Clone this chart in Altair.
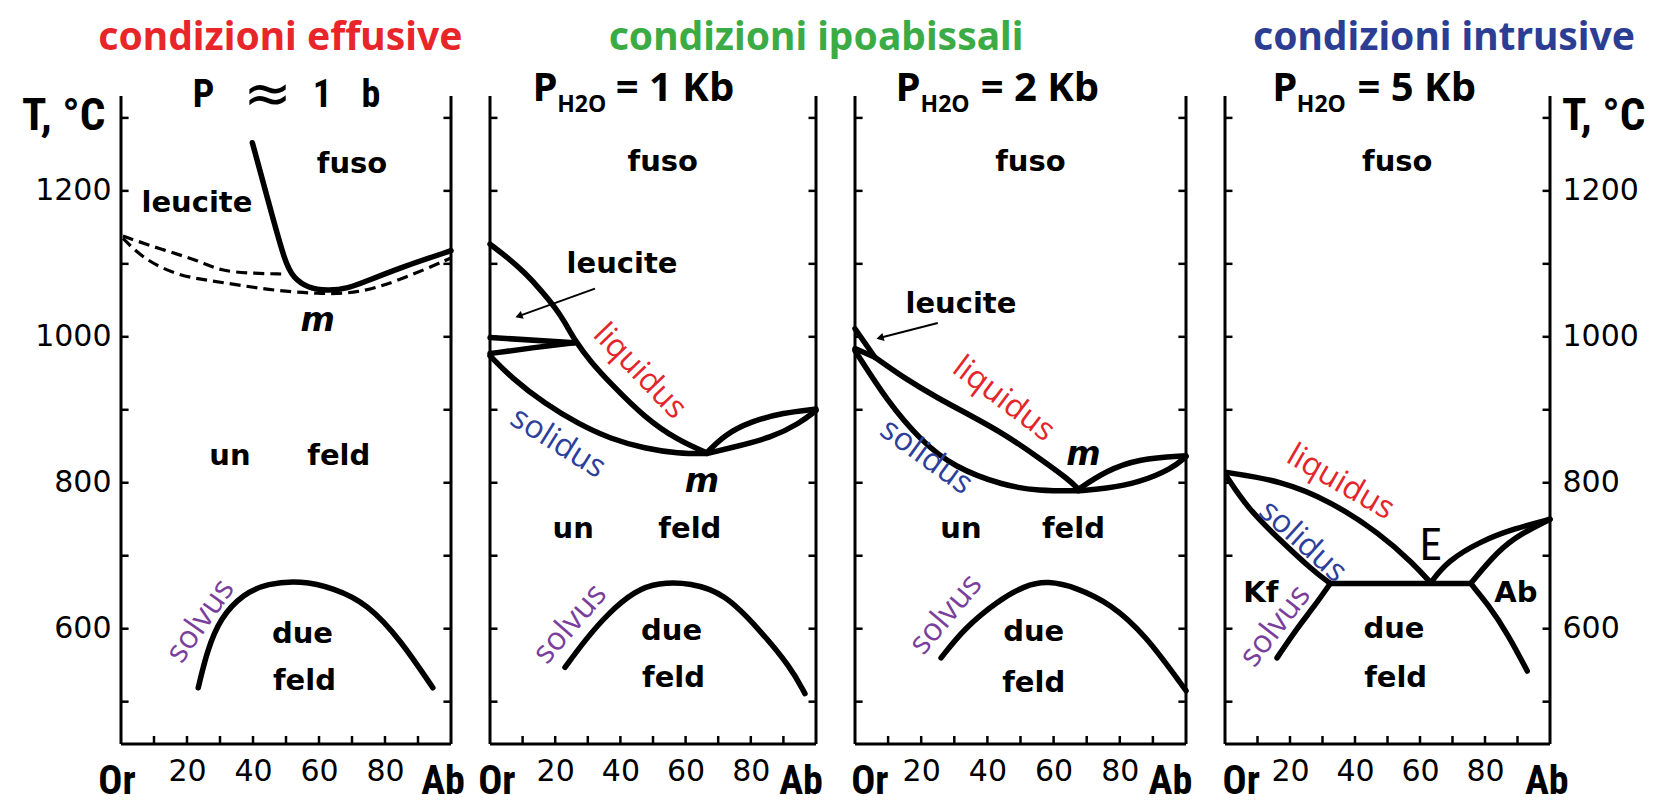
import altair as alt
import pandas as pd

# ------------------------------------------------------------------ scales
T_MIN, T_MAX = 442, 1330
Y_TICKS = [500, 600, 700, 800, 900, 1000, 1100, 1200, 1300]
Y_LABELS = [600, 800, 1000, 1200]
X_TICKS = [10, 20, 30, 40, 50, 60, 70, 80, 90]
X_LABELS = [20, 40, 60, 80]
PANEL_W = [330, 326, 331, 325]
PANEL_H = 648

# ------------------------------------------------------------------ curves
# panel 1 : P ~ 1 b
P1_LIQ_X = [39.8, 44.8, 49.8, 52.3, 56.5, 62.6, 68.7, 74.8, 84.8, 100]
P1_LIQ_T = [1266, 1183, 1100, 1081, 1067, 1063, 1066, 1077, 1095, 1118]
P1_DASH_A_X = [0.6, 12, 24, 30, 40, 49]
P1_DASH_A_T = [1138, 1120, 1104, 1090, 1087, 1086]
P1_DASH_B_X = [0.6, 6.7, 17, 27, 37, 47.4, 59.6, 71.7, 84.8, 100]
P1_DASH_B_T = [1135, 1107, 1084, 1077, 1070, 1063, 1059, 1059, 1078, 1108]
P1_SOLVUS_X = [23.4, 26.1, 30.1, 37.1, 44.4, 54.4, 64.4, 74.8, 84.8, 94.5]
P1_SOLVUS_T = [519, 570, 615, 648, 662, 666, 656, 634, 584, 519]

# panel 2 : PH2O = 1 Kb
P2_LIQ_X = [0, 5, 10.7, 16, 20, 23, 26, 31, 37, 47.5, 57.7, 66.5]
P2_LIQ_T = [1127, 1110, 1088, 1062, 1040, 1020, 995, 965, 936, 889, 858, 841]
P2_SOL_X = [0, 6.5, 16.9, 27, 37, 47.5, 57.7, 66.5]
P2_SOL_T = [974, 944, 908, 881, 860, 847, 840, 840]
P2_LEU_A_X = [0, 26]
P2_LEU_A_T = [999, 992]
P2_LEU_B_X = [0, 13, 26]
P2_LEU_B_T = [977, 985, 992]
P2_AB_LIQ_X = [66.5, 72, 80, 90, 100]
P2_AB_LIQ_T = [841, 866, 884, 896, 901]
P2_AB_SOL_X = [66.5, 74, 86.5, 94.8, 100]
P2_AB_SOL_T = [840, 848, 862, 881, 899]
P2_SOLVUS_X = [23, 29.1, 36.2, 44.5, 51.5, 61.6, 72, 82.2, 92.3, 96.6]
P2_SOLVUS_T = [547, 584, 621, 652, 663, 663, 648, 601, 547, 511]
P2_ARROW_X = [32.2, 9.2]
P2_ARROW_T = [1066, 1029]

# panel 3 : PH2O = 2 Kb
P3_LIQ_X = [6, 15, 25, 35, 45, 55, 65, 67.5]
P3_LIQ_T = [972, 943, 916, 892, 867, 836, 803, 791]
P3_SOL_X = [0, 9.7, 19.8, 30, 45, 55.3, 67.5]
P3_SOL_T = [981, 912, 858, 821, 796, 789, 789]
P3_LEU_A_X = [0, 6]
P3_LEU_A_T = [1011, 972]
P3_LEU_B_X = [0, 6]
P3_LEU_B_T = [984, 972]
P3_AB_LIQ_X = [67.5, 75.7, 85.7, 100]
P3_AB_LIQ_T = [791, 816, 833, 837]
P3_AB_SOL_X = [67.5, 75.7, 85.7, 95.7, 100]
P3_AB_SOL_T = [789, 792, 800, 819, 836]
P3_SOLVUS_X = [26, 33.1, 43.1, 51.2, 58.2, 67.2, 77.2, 87.5, 100]
P3_SOLVUS_T = [560, 601, 638, 659, 666, 656, 634, 593, 515]
P3_ARROW_X = [25, 7.9]
P3_ARROW_T = [1019, 999]

# panel 4 : PH2O = 5 Kb
P4_LIQ_X = [0.6, 17, 32.4, 47.8, 58, 63.3]
P4_LIQ_T = [814, 803, 775, 730, 689, 663]
P4_SOL_X = [0.6, 6.8, 17, 27.2, 32.4]
P4_SOL_T = [808, 766, 721, 679, 662]
P4_EUT_X = [32.4, 75.6]
P4_EUT_T = [662, 662]
P4_AB_LIQ_X = [63.3, 68.5, 78.7, 88.9, 100]
P4_AB_LIQ_T = [663, 693, 720, 737, 750]
P4_AB_SOL_X = [75.6, 84, 91, 100]
P4_AB_SOL_T = [662, 707, 730, 750]
P4_SOLVUS_KF_X = [16, 22.2, 27.2, 32.4]
P4_SOLVUS_KF_T = [560, 601, 629, 662]
P4_SOLVUS_AB_X = [75.6, 80.8, 87, 93]
P4_SOLVUS_AB_T = [662, 634, 593, 542]

SOLID = [
    (1, "liq", P1_LIQ_X, P1_LIQ_T), (1, "solvus", P1_SOLVUS_X, P1_SOLVUS_T),
    (2, "liq", P2_LIQ_X, P2_LIQ_T), (2, "sol", P2_SOL_X, P2_SOL_T),
    (2, "leuA", P2_LEU_A_X, P2_LEU_A_T), (2, "leuB", P2_LEU_B_X, P2_LEU_B_T),
    (2, "abliq", P2_AB_LIQ_X, P2_AB_LIQ_T), (2, "absol", P2_AB_SOL_X, P2_AB_SOL_T),
    (2, "solvus", P2_SOLVUS_X, P2_SOLVUS_T),
    (3, "liq", P3_LIQ_X, P3_LIQ_T), (3, "sol", P3_SOL_X, P3_SOL_T),
    (3, "leuA", P3_LEU_A_X, P3_LEU_A_T), (3, "leuB", P3_LEU_B_X, P3_LEU_B_T),
    (3, "abliq", P3_AB_LIQ_X, P3_AB_LIQ_T), (3, "absol", P3_AB_SOL_X, P3_AB_SOL_T),
    (3, "solvus", P3_SOLVUS_X, P3_SOLVUS_T),
    (4, "liq", P4_LIQ_X, P4_LIQ_T), (4, "sol", P4_SOL_X, P4_SOL_T),
    (4, "eut", P4_EUT_X, P4_EUT_T), (4, "abliq", P4_AB_LIQ_X, P4_AB_LIQ_T),
    (4, "absol", P4_AB_SOL_X, P4_AB_SOL_T), (4, "solvkf", P4_SOLVUS_KF_X, P4_SOLVUS_KF_T),
    (4, "solvab", P4_SOLVUS_AB_X, P4_SOLVUS_AB_T),
]
DASHED = [(1, "dashA", P1_DASH_A_X, P1_DASH_A_T), (1, "dashB", P1_DASH_B_X, P1_DASH_B_T)]
ARROWS = [(2, P2_ARROW_X, P2_ARROW_T, 250), (3, P3_ARROW_X, P3_ARROW_T, 255)]

# ------------------------------------------------------------------ labels
REG_PANEL = [1, 1, 1, 1, 1, 1, 2, 2, 2, 2, 2, 2, 3, 3, 3, 3, 3, 3, 4, 4, 4, 4, 4]
REG_TEXT = ["fuso", "leucite", "un", "feld", "due", "feld",
            "fuso", "leucite", "un", "feld", "due", "feld",
            "fuso", "leucite", "un", "feld", "due", "feld",
            "fuso", "Kf", "Ab", "due", "feld"]
REG_X = [70, 23, 33, 66, 55, 55.6,
         53, 40.5, 25.5, 61.3, 55.7, 56.3,
         53, 32, 32, 66, 54, 54,
         53, 11, 89.5, 52, 52.5]
REG_T = [1237, 1183, 837, 837, 593, 529,
         1240, 1100, 736, 736, 597, 533,
         1240, 1045, 737, 737, 595, 526,
         1240, 649, 649, 599, 533]

M_PANEL = [1, 2, 3]
M_X = [59.6, 65, 69]
M_T = [1022, 801, 838]

RED, BLUE, PURPLE = "#e3262b", "#2d3f9a", "#7a3f9d"
COL_PANEL = [1, 2, 2, 2, 3, 3, 3, 4, 4, 4]
COL_TEXT = ["solvus", "liquidus", "solidus", "solvus", "liquidus", "solidus", "solvus",
            "liquidus", "solidus", "solvus"]
COL_COLOR = [PURPLE, RED, BLUE, PURPLE, RED, BLUE, PURPLE, RED, BLUE, PURPLE]
COL_X = [24, 46, 20.9, 24.5, 45, 21.6, 27.4, 35.6, 24, 15.4]
COL_T = [611, 953, 855, 607, 915, 836, 620, 801, 720, 604]
COL_ANGLE = [305, 46, 32, 311, 37, 36, 310, 30, 42, 308]

E_X, E_T = [63.3], [712]

TITLE_PANEL = [1, 2, 4]
TITLE_TEXT = ["condizioni effusive", "condizioni ipoabissali", "condizioni intrusive"]
TITLE_COLOR = ["#e8262a", "#3bab45", "#2c3e94"]
TITLE_X = [48.3, 100, 67.4]
TITLE_T = [1410, 1410, 1410]

SUB_PANEL = [2, 3, 4]
SUB_VALUE = ["= 1 Kb", "= 2 Kb", "= 5 Kb"]
SUB_P_X = [13.0, 12.2, 14.5]
SUB_H_X = [20.6, 19.8, 22.1]
SUB_EQ_X = [38.6, 38.0, 40.8]
SUB_T_BIG = 1340
SUB_T_SMALL = 1318

P1_SUB_TEXT = ["P", "1", "b"]
P1_SUB_X = [25, 61, 75.7]
P1_APPROX_X = 44.4
P1_SUB_T = 1330

OR_X = [-1.2, 2.1, 4.5, 5]
AB_X = [97.6, 95.4, 95.3, 99]

NARROW = "Liberation Sans Narrow, Roboto Condensed, DejaVu Sans Condensed, Open Sans Condensed, sans-serif"
NUMFONT = "DejaVu Sans"
LABFONT = "DejaVu Sans"


def line_df(items):
    rows = []
    for p, name, xs, ts in items:
        for i, (x, t) in enumerate(zip(xs, ts)):
            rows.append({"panel": p, "curve": name, "i": i, "x": x, "T": t})
    return pd.DataFrame(rows)


solid_all = line_df(SOLID)
dashed_all = line_df(DASHED)


def make_panel(p):
    w = PANEL_W[p - 1]
    x_axis = alt.Axis(values=X_LABELS, ticks=False, domain=False, grid=False,
                      labelFontSize=30, labelFont=NUMFONT, labelColor="black",
                      labelPadding=12, title=None, format="d")
    if p == 1:
        y_axis = alt.Axis(orient="left", values=Y_LABELS, ticks=False, domain=False,
                          grid=False, labelFontSize=30, labelFont=NUMFONT, format="d",
                          labelColor="black", labelPadding=10, title=None)
    elif p == 4:
        y_axis = alt.Axis(orient="right", values=Y_LABELS, ticks=False, domain=False,
                          grid=False, labelFontSize=30, labelFont=NUMFONT, format="d",
                          labelColor="black", labelPadding=12, title=None)
    else:
        y_axis = None

    X = alt.X("x:Q", scale=alt.Scale(domain=[0, 100], nice=False, zero=False), axis=x_axis)
    Y = alt.Y("T:Q", scale=alt.Scale(domain=[T_MIN, T_MAX], nice=False, zero=False), axis=y_axis)

    layers = []
    # frame (left, right, bottom)
    frame = pd.DataFrame({"x": [0, 100, 0], "x2": [0, 100, 100],
                          "T": [T_MIN, T_MIN, T_MIN], "T2": [T_MAX, T_MAX, T_MIN]})
    layers.append(alt.Chart(frame).mark_rule(color="black", strokeWidth=3)
                  .encode(x=X, x2="x2:Q", y=Y, y2="T2:Q"))
    # inward ticks
    trows = []
    for t in Y_TICKS:
        trows.append({"x": 0, "x2": 2.3, "T": t, "T2": t})
        trows.append({"x": 97.7, "x2": 100, "T": t, "T2": t})
    for c in X_TICKS:
        trows.append({"x": c, "x2": c, "T": T_MIN, "T2": T_MIN + 11})
    layers.append(alt.Chart(pd.DataFrame(trows)).mark_rule(color="black", strokeWidth=2.5)
                  .encode(x=X, x2="x2:Q", y=Y, y2="T2:Q"))
    # solid curves
    sdf = solid_all[solid_all.panel == p]
    layers.append(alt.Chart(sdf).mark_line(color="black", strokeWidth=5.5,
                                           interpolate="basis", strokeCap="round",
                                           strokeJoin="round")
                  .encode(x=X, y=Y, detail="curve:N", order="i:Q"))
    ddf = dashed_all[dashed_all.panel == p]
    if len(ddf):
        layers.append(alt.Chart(ddf).mark_line(color="black", strokeWidth=3.2,
                                               interpolate="basis", strokeDash=[11, 6])
                      .encode(x=X, y=Y, detail="curve:N", order="i:Q"))
    for ap, ax, at, ang in ARROWS:
        if ap == p:
            adf = pd.DataFrame({"x": ax, "T": at, "i": [0, 1]})
            layers.append(alt.Chart(adf).mark_line(color="black", strokeWidth=2)
                          .encode(x=X, y=Y, order="i:Q"))
            hdf = pd.DataFrame({"x": [ax[1]], "T": [at[1]], "ang": [ang]})
            layers.append(alt.Chart(hdf).mark_point(shape="triangle", filled=True,
                                                    color="black", size=70, opacity=1)
                          .encode(x=X, y=Y, angle=alt.Angle("ang:Q", scale=None)))
    # region labels
    rdf = pd.DataFrame({"panel": REG_PANEL, "text": REG_TEXT, "x": REG_X, "T": REG_T})
    rdf = rdf[rdf.panel == p]
    layers.append(alt.Chart(rdf).mark_text(font=LABFONT, fontWeight="bold", fontSize=29,
                                           color="black", baseline="middle")
                  .encode(x=X, y=Y, text="text:N"))
    mdf = pd.DataFrame({"panel": M_PANEL, "x": M_X, "T": M_T, "text": "m"})
    mdf = mdf[mdf.panel == p]
    if len(mdf):
        layers.append(alt.Chart(mdf).mark_text(font=LABFONT, fontWeight="bold",
                                               fontStyle="italic", fontSize=33,
                                               color="black", baseline="middle")
                      .encode(x=X, y=Y, text="text:N"))
    cdf = pd.DataFrame({"panel": COL_PANEL, "text": COL_TEXT, "color": COL_COLOR,
                        "x": COL_X, "T": COL_T, "angle": COL_ANGLE})
    cdf = cdf[cdf.panel == p]
    layers.append(alt.Chart(cdf).mark_text(font="Open Sans", fontSize=32, baseline="middle")
                  .encode(x=X, y=Y, text="text:N", color=alt.Color("color:N", scale=None),
                          angle=alt.Angle("angle:Q", scale=None)))
    if p == 4:
        edf = pd.DataFrame({"x": E_X, "T": E_T, "text": ["E"]})
        layers.append(alt.Chart(edf).mark_text(font=NARROW, fontSize=44, color="black",
                                               baseline="middle")
                      .encode(x=X, y=Y, text="text:N"))
    # big coloured titles
    tdf = pd.DataFrame({"panel": TITLE_PANEL, "text": TITLE_TEXT, "color": TITLE_COLOR,
                        "x": TITLE_X, "T": TITLE_T})
    tdf = tdf[tdf.panel == p]
    if len(tdf):
        layers.append(alt.Chart(tdf).mark_text(font="Noto Sans", fontWeight="bold",
                                               fontSize=39, baseline="middle")
                      .encode(x=X, y=Y, text="text:N",
                              color=alt.Color("color:N", scale=None)))
    # pressure subtitles
    if p == 1:
        sdf1 = pd.DataFrame({"x": P1_SUB_X, "T": [P1_SUB_T] * 3, "text": P1_SUB_TEXT})
        layers.append(alt.Chart(sdf1).mark_text(font=NARROW, fontSize=38, color="black",
                                                fontWeight="bold", baseline="middle")
                      .encode(x=X, y=Y, text="text:N"))
        adf1 = pd.DataFrame({"x": [P1_APPROX_X], "T": [P1_SUB_T], "text": ["≈"]})
        layers.append(alt.Chart(adf1).mark_text(font="DejaVu Sans", fontSize=58,
                                                color="black", baseline="middle")
                      .encode(x=X, y=Y, text="text:N"))
    else:
        k = SUB_PANEL.index(p)
        big = pd.DataFrame({"x": [SUB_P_X[k], SUB_EQ_X[k]], "T": [SUB_T_BIG] * 2,
                            "text": ["P", SUB_VALUE[k]]})
        layers.append(alt.Chart(big).mark_text(font="Open Sans", fontWeight="bold",
                                               fontSize=40, color="black", align="left",
                                               baseline="middle")
                      .encode(x=X, y=Y, text="text:N"))
        small = pd.DataFrame({"x": [SUB_H_X[k]], "T": [SUB_T_SMALL], "text": ["H2O"]})
        layers.append(alt.Chart(small).mark_text(font="Open Sans", fontWeight="bold",
                                                 fontSize=23, color="black", align="left",
                                                 baseline="middle")
                      .encode(x=X, y=Y, text="text:N"))
    # Or / Ab end labels
    odf = pd.DataFrame({"x": [OR_X[p - 1], AB_X[p - 1]], "T": [T_MIN, T_MIN],
                        "text": ["Or", "Ab"]})
    layers.append(alt.Chart(odf).mark_text(font=NARROW, fontSize=40, fontWeight="bold",
                                           color="black", baseline="middle", dy=38)
                  .encode(x=X, y=Y, text="text:N"))
    # temperature unit label
    if p == 1:
        udf = pd.DataFrame({"x": [0], "T": [1303], "text": ["T, °C"]})
        layers.append(alt.Chart(udf).mark_text(font=NARROW, fontSize=45, fontWeight="bold",
                                               color="black", align="left",
                                               baseline="middle", dx=-99)
                      .encode(x=X, y=Y, text="text:N"))
    if p == 4:
        udf = pd.DataFrame({"x": [100], "T": [1303], "text": ["T, °C"]})
        layers.append(alt.Chart(udf).mark_text(font=NARROW, fontSize=45, fontWeight="bold",
                                               color="black", align="left",
                                               baseline="middle", dx=12)
                      .encode(x=X, y=Y, text="text:N"))
    return alt.layer(*layers).properties(width=w, height=PANEL_H)


chart = alt.hconcat(*[make_panel(p) for p in [1, 2, 3, 4]], spacing=39, bounds="flush")
chart = chart.properties(
    padding={"left": 22, "top": 18, "right": 2, "bottom": 5},
    background="white",
).configure_view(stroke=None)

chart.save("out.html", embed_options={"renderer": "svg", "actions": False})
